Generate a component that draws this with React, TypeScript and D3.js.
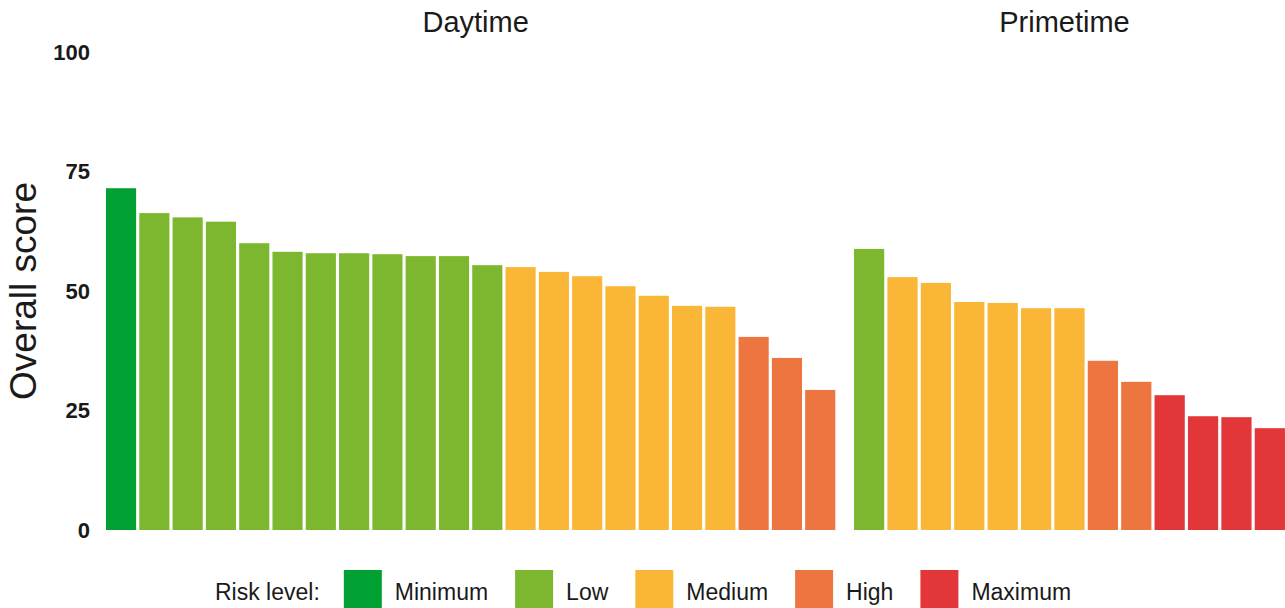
import React, { useEffect, useRef } from "react";
import * as d3 from "d3";

const WIDTH = 1285;
const HEIGHT = 608;

const riskLevels = ["Minimum", "Low", "Medium", "High", "Maximum"];
const riskColors = ["#00A032", "#7DB72F", "#F9B637", "#EC7540", "#E33638"];

const panels = ["Daytime", "Primetime"];

const daytimeScores = [
  71.5, 66.3, 65.4, 64.5, 60.0, 58.2, 57.9, 57.9, 57.7, 57.3, 57.3, 55.4,
  55.0, 54.0, 53.1, 51.0, 49.0, 46.9, 46.7, 40.4, 36.0, 29.3,
];
const daytimeRisk = [
  "Minimum", "Low", "Low", "Low", "Low", "Low", "Low", "Low", "Low", "Low", "Low", "Low",
  "Medium", "Medium", "Medium", "Medium", "Medium", "Medium", "Medium", "High", "High", "High",
];

const primetimeScores = [
  58.8, 52.9, 51.7, 47.7, 47.5, 46.4, 46.4, 35.4, 31.0, 28.2, 23.8, 23.6, 21.3,
];
const primetimeRisk = [
  "Low", "Medium", "Medium", "Medium", "Medium", "Medium", "Medium", "High", "High",
  "Maximum", "Maximum", "Maximum", "Maximum",
];

const yTicks = [0, 25, 50, 75, 100];
const yTitle = "Overall score";
const legendTitle = "Risk level:";

const FONT = "'Liberation Sans', Arial, Helvetica, sans-serif";
const INK = "#1a1a1a";

export default function App() {
  const ref = useRef<SVGSVGElement | null>(null);

  useEffect(() => {
    const svg = d3.select(ref.current);
    svg.selectAll("*").remove();

    const color = d3.scaleOrdinal<string, string>().domain(riskLevels).range(riskColors);
    const y = d3.scaleLinear().domain([0, 100]).range([530, 52]);

    // y axis labels
    svg
      .append("g")
      .selectAll("text")
      .data(yTicks)
      .join("text")
      .attr("x", 90)
      .attr("y", (d) => y(d))
      .attr("dy", "0.36em")
      .attr("text-anchor", "end")
      .attr("font-family", FONT)
      .attr("font-weight", "bold")
      .attr("font-size", 22)
      .attr("fill", INK)
      .text((d) => String(d));

    svg
      .append("text")
      .attr("transform", `translate(36, ${y(50)}) rotate(-90)`)
      .attr("text-anchor", "middle")
      .attr("font-family", FONT)
      .attr("font-size", 37)
      .attr("fill", INK)
      .text(yTitle);

    const step = 33.15;
    const panelData = [
      { name: panels[0], x0: 106, scores: daytimeScores, risk: daytimeRisk, titleOffset: 5 },
      { name: panels[1], x0: 854, scores: primetimeScores, risk: primetimeRisk, titleOffset: -5 },
    ];

    panelData.forEach((p) => {
      const idx = p.scores.map((_, i) => i);
      const x = d3
        .scaleBand<number>()
        .domain(idx)
        .range([p.x0, p.x0 + step * idx.length])
        .paddingInner(0.095)
        .paddingOuter(0);

      const g = svg.append("g");
      g.selectAll("rect")
        .data(idx)
        .join("rect")
        .attr("x", (i) => x(i)!)
        .attr("width", x.bandwidth())
        .attr("y", (i) => y(p.scores[i]))
        .attr("height", (i) => y(0) - y(p.scores[i]))
        .attr("fill", (i) => color(p.risk[i]));

      const [r0, r1] = x.range();
      g.append("text")
        .attr("x", (r0 + r1) / 2 + p.titleOffset)
        .attr("y", 32)
        .attr("text-anchor", "middle")
        .attr("font-family", FONT)
        .attr("font-size", 29)
        .attr("fill", INK)
        .text(p.name);
    });

    // legend
    const lg = svg.append("g");
    const sw = 38;
    const top = 570;
    const baseline = 600;
    const fs = 23;
    const titleText = lg
      .append("text")
      .attr("x", 215)
      .attr("y", baseline)
      .attr("font-family", FONT)
      .attr("font-size", fs)
      .attr("fill", INK)
      .text(legendTitle);
    let cx = 215 + (titleText.node() as SVGTextElement).getComputedTextLength() + 24;
    riskLevels.forEach((lvl) => {
      lg.append("rect")
        .attr("x", cx)
        .attr("y", top)
        .attr("width", sw)
        .attr("height", sw)
        .attr("fill", color(lvl));
      const t = lg
        .append("text")
        .attr("x", cx + sw + 13)
        .attr("y", baseline)
        .attr("font-family", FONT)
        .attr("font-size", fs)
        .attr("fill", INK)
        .text(lvl);
      cx += sw + 13 + (t.node() as SVGTextElement).getComputedTextLength() + 27;
    });
  }, []);

  return (
    <svg
      ref={ref}
      width={WIDTH}
      height={HEIGHT}
      style={{ position: "absolute", left: 0, top: 0, background: "#ffffff" }}
    />
  );
}
